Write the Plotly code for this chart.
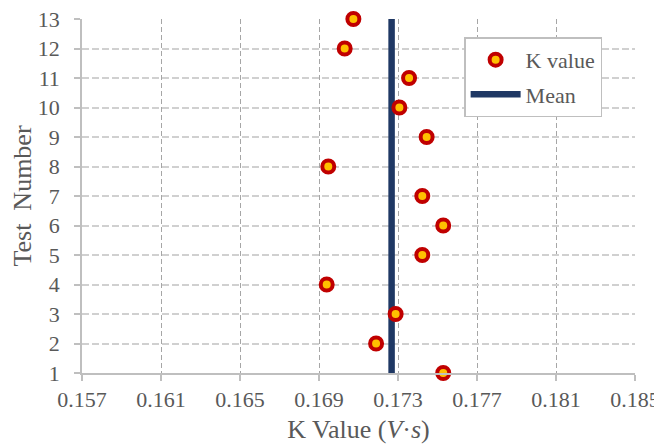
import plotly.graph_objects as go

test_number = [1, 2, 3, 4, 5, 6, 7, 8, 9, 10, 11, 12, 13]
k_value = [0.17529, 0.17189, 0.17288, 0.16939, 0.17423, 0.17529, 0.17423,
           0.16947, 0.17445, 0.17307, 0.17356, 0.17030, 0.17074]
mean_k = sum(k_value) / len(k_value)
mean_y = [1, 13]
x_ticks = [0.157, 0.161, 0.165, 0.169, 0.173, 0.177, 0.181, 0.185]

FONT = "Liberation Serif, Times New Roman, serif"
GRAY = "#595959"

fig = go.Figure()
fig.add_trace(go.Scatter(
    x=[mean_k, mean_k], y=mean_y, mode="lines", name="Mean",
    line=dict(color="#1F3864", width=6.5),
    cliponaxis=False, legendrank=2, legendgroup="b",
))
fig.add_trace(go.Scatter(
    x=k_value, y=test_number, mode="markers", name="K value",
    marker=dict(size=12, color="#FFC000", line=dict(color="#C00000", width=4)),
    cliponaxis=False, legendrank=1, legendgroup="a",
))

axis_common = dict(
    showline=True, linecolor="#BFBFBF", linewidth=1.5,
    ticks="outside", ticklen=6, tickcolor="#BFBFBF", tickwidth=1.5,
    showgrid=True, zeroline=False, automargin=False,
    ticklabeloverflow="allow",
    tickfont=dict(family=FONT, size=22, color=GRAY),
)

# page body has an 8px margin; offset the plot area to compensate
fig.update_layout(
    width=654, height=436,
    margin=dict(l=74, r=27, t=11, b=71),
    plot_bgcolor="white", paper_bgcolor="white",
    font=dict(family=FONT, color=GRAY),
    xaxis=dict(range=[0.157, 0.185], tickvals=x_ticks,
               ticktext=[f"{v:.3f}" for v in x_ticks],
               gridcolor="#A6A6A6", griddash="5px,3px", gridwidth=1,
               ticklabelstandoff=0,
               title=dict(text="K Value (<i>V</i>·<i>s</i>)",
                          font=dict(family=FONT, size=26, color=GRAY), standoff=9),
               **axis_common),
    yaxis=dict(range=[1, 13], tickvals=test_number,
               gridcolor="#D0D0D0", griddash="7px,3px", gridwidth=1.5,
               ticklabelstandoff=10,
               title=dict(text="Test\u00a0 Number",
                          font=dict(family=FONT, size=26, color=GRAY), standoff=3),
               **axis_common),
    legend=dict(x=0.691, y=0.948, xanchor="left", yanchor="top",
                bordercolor="#BFBFBF", borderwidth=1.5, bgcolor="white",
                font=dict(family=FONT, size=22, color=GRAY),
                tracegroupgap=3, itemwidth=50),
    showlegend=True,
)

fig.write_html("out.html")
